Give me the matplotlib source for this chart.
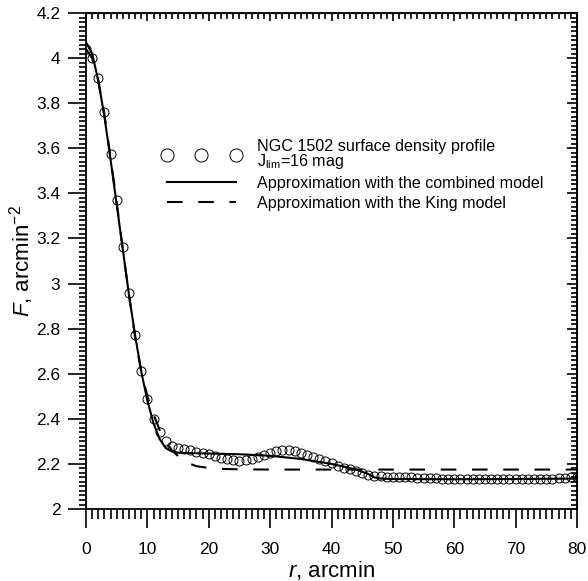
import numpy as np
import matplotlib.pyplot as plt
from matplotlib.ticker import MultipleLocator

plt.rcParams["font.family"] = ["Liberation Sans", "DejaVu Sans"]
plt.rcParams["mathtext.fontset"] = "custom"
plt.rcParams["mathtext.rm"] = "Liberation Sans"
plt.rcParams["mathtext.it"] = "Liberation Sans:italic"

# observed surface density profile (one point per arcmin)
r_obs = list(range(0, 81))
f_obs = [4.04, 4.00, 3.91, 3.76, 3.575, 3.37, 3.16, 2.96, 2.77, 2.61,
         2.49, 2.40, 2.34, 2.30, 2.28, 2.27, 2.265, 2.26, 2.255, 2.25,
         2.243, 2.235, 2.226, 2.22, 2.217, 2.215, 2.216, 2.222, 2.23, 2.24,
         2.25, 2.257, 2.26, 2.26, 2.257, 2.25, 2.24, 2.23, 2.22, 2.213,
         2.204, 2.193, 2.183, 2.176, 2.168, 2.16, 2.152, 2.146, 2.145, 2.144,
         2.143, 2.142, 2.141, 2.14, 2.139, 2.138, 2.137, 2.136, 2.135, 2.134,
         2.133, 2.132, 2.131, 2.131, 2.131, 2.131, 2.131, 2.131, 2.132, 2.132,
         2.132, 2.132, 2.133, 2.133, 2.134, 2.134, 2.135, 2.136, 2.138, 2.14,
         2.142]

# combined model
r_comb = [0, 1, 2, 3, 4, 5, 6, 7, 8, 9, 10, 11, 12, 13, 14, 15, 17, 20, 25,
          30, 35, 40, 42, 44, 46, 47, 48, 50, 60, 70, 80]
f_comb = [4.07, 4.02, 3.90, 3.74, 3.55, 3.35, 3.15, 2.95, 2.77, 2.61, 2.48,
          2.38, 2.31, 2.27, 2.255, 2.25, 2.248, 2.246, 2.243, 2.236, 2.222,
          2.20, 2.188, 2.175, 2.155, 2.14, 2.135, 2.133, 2.132, 2.133, 2.135]

# King model
r_king = [0, 1, 2, 3, 4, 5, 6, 7, 8, 9, 10, 11, 12, 13, 14, 15, 16, 17, 18,
          20, 22, 25, 30, 40, 50, 60, 70, 80]
f_king = [4.04, 4.00, 3.90, 3.75, 3.56, 3.36, 3.15, 2.95, 2.76, 2.61, 2.50,
          2.42, 2.35, 2.30, 2.26, 2.235, 2.215, 2.20, 2.19, 2.182, 2.178,
          2.176, 2.175, 2.175, 2.175, 2.175, 2.175, 2.175]

fig = plt.figure(figsize=(5.88, 5.81), dpi=100)
ax = fig.add_axes([0.1463, 0.1239, 0.835, 0.8537])

ax.plot(r_obs, f_obs, "o", ms=6.5, mfc="none", mec="black", mew=0.7,
        label="NGC 1502 surface density profile\nJ$_{\\mathregular{lim}}$=16 mag")
ax.plot(r_comb, f_comb, color="black", lw=1.5,
        label="Approximation with the combined model")
ax.plot(r_king, f_king, color="black", lw=1.5, linestyle=(0, (7.5, 7.5)),
        label="Approximation with the King model")

ax.set_xlim(0, 80)
ax.set_ylim(2, 4.2)
ax.xaxis.set_major_locator(MultipleLocator(10))
ax.xaxis.set_minor_locator(MultipleLocator(1))
ax.yaxis.set_major_locator(MultipleLocator(0.2))
ax.yaxis.set_minor_locator(MultipleLocator(0.02))
ax.yaxis.set_major_formatter(lambda v, p: f"{v:g}")

ax.tick_params(which="both", direction="out", width=1.2, labelsize=12.5,
               top=False, right=False)
ax.tick_params(axis="x", which="major", length=14, pad=10)
ax.tick_params(axis="x", which="minor", length=7)
ax.tick_params(axis="y", which="major", length=13, pad=5.5)
ax.tick_params(axis="y", which="minor", length=5)
for s in ax.spines.values():
    s.set_linewidth(1.3)

# inward ticks on top and right
top = ax.secondary_xaxis("top")
top.xaxis.set_major_locator(MultipleLocator(10))
top.xaxis.set_minor_locator(MultipleLocator(1))
top.tick_params(which="both", direction="in", width=1.2, labeltop=False)
top.tick_params(which="major", length=6)
top.tick_params(which="minor", length=4)
right = ax.secondary_yaxis("right")
right.yaxis.set_major_locator(MultipleLocator(0.2))
right.yaxis.set_minor_locator(MultipleLocator(0.02))
right.tick_params(which="both", direction="in", width=1.2, labelright=False)
right.tick_params(which="major", length=7)
right.tick_params(which="minor", length=4)

ax.set_xlabel("$\\it{r}$, arcmin", fontsize=16, labelpad=1)
ax.set_ylabel("$\\it{F}$, arcmin$^{-2}$", fontsize=16, labelpad=0)

leg = ax.legend(loc="upper left", bbox_to_anchor=(0.125, 0.775), frameon=False,
                fontsize=11.6, numpoints=3, markerscale=1.45, handlelength=4.9,
                handletextpad=1.0, labelspacing=0.3)
leg.get_texts()[0].set_linespacing(0.85)

plt.savefig("out.png", dpi=100)
plt.close()
